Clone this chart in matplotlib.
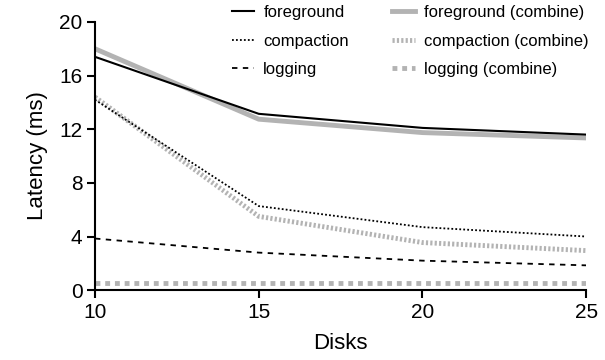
import matplotlib
matplotlib.use("Agg")
import matplotlib.pyplot as plt

plt.rcParams['font.family'] = ['Liberation Sans', 'DejaVu Sans']

disks = [10, 15, 20, 25]
foreground = [17.4, 13.15, 12.1, 11.6]
compaction = [14.2, 6.27, 4.7, 4.0]
logging_ = [3.85, 2.8, 2.2, 1.85]
foreground_c = [18.0, 12.75, 11.75, 11.35]
compaction_c = [14.4, 5.5, 3.55, 2.95]
logging_c = [0.5, 0.5, 0.5, 0.5]

fig = plt.figure(figsize=(6.05, 3.6), dpi=100)
ax = fig.add_axes([0.157, 0.194, 0.812, 0.745])

grey = '#b3b3b3'
l1, = ax.plot(disks, foreground, color='black', lw=1.5, ls='-', label='foreground')
l2, = ax.plot(disks, compaction, color='black', lw=1.3, ls=(0, (1, 1.2)), label='compaction')
l3, = ax.plot(disks, logging_, color='black', lw=1.3, ls=(0, (3, 3)), label='logging')
l4, = ax.plot(disks, foreground_c, color=grey, lw=3.5, ls='-', label='foreground (combine)', zorder=1)
l5, = ax.plot(disks, compaction_c, color=grey, lw=3.5, ls=(0, (0.45, 0.45)), label='compaction (combine)', zorder=1)
l6, = ax.plot(disks, logging_c, color=grey, lw=3.5, ls=(0, (1, 1)), label='logging (combine)', zorder=1)

ax.set_xlim(10, 25)
ax.set_ylim(0, 20)
ax.set_xticks([10, 15, 20, 25])
ax.set_yticks([0, 4, 8, 12, 16, 20])
ax.spines['top'].set_visible(False)
ax.spines['right'].set_visible(False)
ax.spines['left'].set_linewidth(1.5)
ax.spines['bottom'].set_linewidth(1.5)
ax.tick_params(direction='out', length=6, width=1.5, labelsize=15, pad=3)
ax.set_xlabel('Disks', fontsize=16, labelpad=8)
ax.set_ylabel('Latency (ms)', fontsize=16, labelpad=8)

leg = fig.legend(handles=[l1, l2, l3, l4, l5, l6], ncol=2, loc='upper left',
                 bbox_to_anchor=(0.358, 1.027), frameon=False, fontsize=12,
                 handlelength=1.35, handletextpad=0.55, columnspacing=2.6,
                 labelspacing=0.8)

fig.savefig('out.png', dpi=100)
